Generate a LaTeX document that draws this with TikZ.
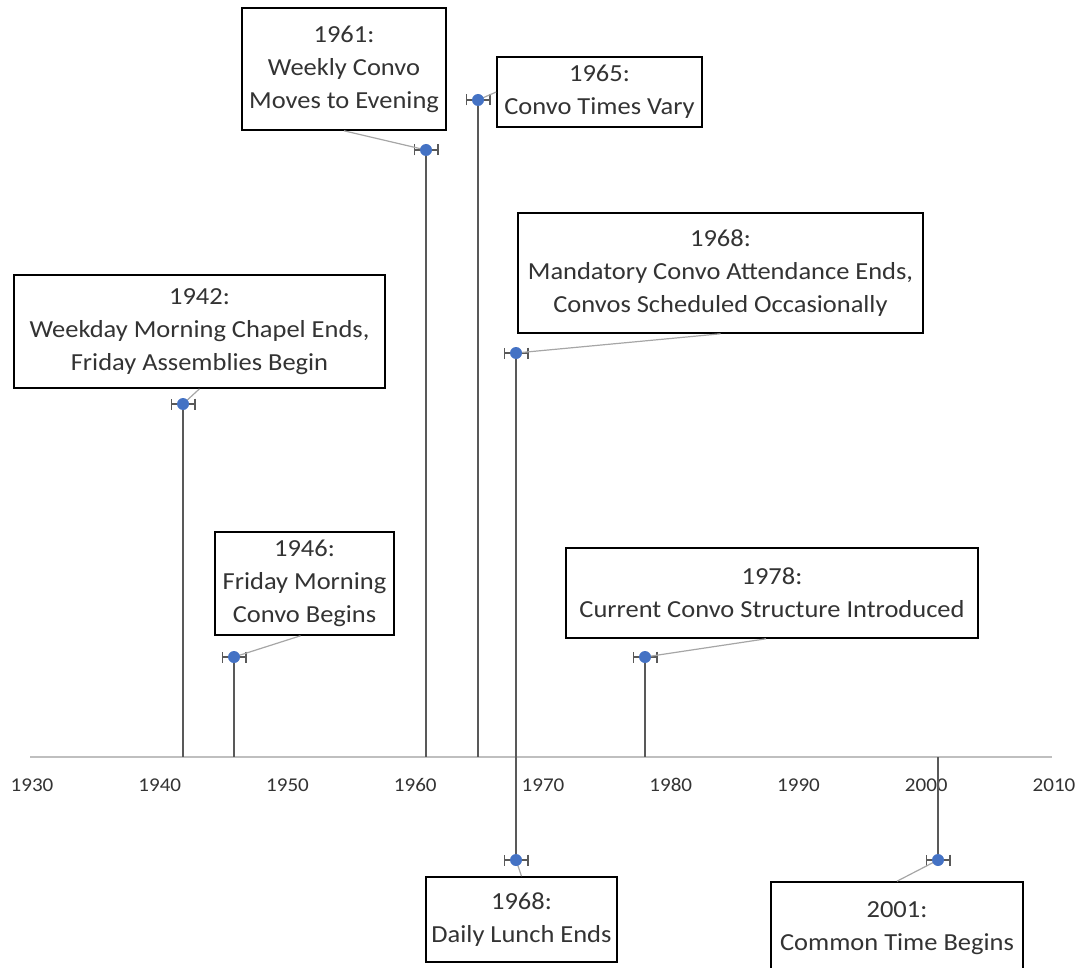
\documentclass[tikz,border=0pt]{standalone}
\usepackage{fontspec}
\setmainfont{Carlito}[FakeStretch=1.08]
\usetikzlibrary{arrows.meta,calc}
\definecolor{markblue}{HTML}{4472C4}
\definecolor{stemgray}{HTML}{595959}
\definecolor{axisgray}{HTML}{BFBFBF}
\definecolor{leadgray}{HTML}{A6A6A6}
\definecolor{txtgray}{HTML}{333333}
\begin{document}
\begin{tikzpicture}[x=1pt,y=-1pt,
  evbox/.style={draw=black, line width=1.6pt, fill=white, align=center,
    font=\fontsize{24.5}{33}\selectfont, text=txtgray, inner sep=0pt},
  stemline/.style={draw=stemgray, line width=1.6pt},
  leadline/.style={draw=leadgray, line width=1.2pt},
  errbar/.style={draw=stemgray, line width=1.7pt, {Bar[width=11pt]}-{Bar[width=11pt]}},
  ticklab/.style={font=\fontsize{19.5}{22}\selectfont, text=txtgray},
  axisline/.style={draw=axisgray, line width=1.4pt}
]
\useasboundingbox (0,0) rectangle (1075,968);

% axis
\coordinate (axL) at (30,757);
\coordinate (axR) at (1052,757);
\draw[axisline] (axL) -- (axR);
\foreach \yr [count=\i from 0] in {1930,1940,1950,1960,1970,1980,1990,2000,2010} {
  \node[ticklab] (t\yr) at (32+\i*127.75,785) {\yr};
}

% axis anchors
\coordinate (a1942) at (183,757);
\coordinate (a1946) at (234,757);
\coordinate (a1961) at (426,757);
\coordinate (a1965) at (478,757);
\coordinate (a1968) at (516,757);
\coordinate (a1978) at (645,757);
\coordinate (a2001) at (938,757);

% boxes
\node[evbox, minimum width=204pt, minimum height=122pt] (b1961) at (344,69) {1961:\\Weekly Convo\\Moves to Evening};
\node[evbox, minimum width=205pt, minimum height=70pt] (b1965) at (599.5,92) {1965:\\Convo Times Vary};
\node[evbox, minimum width=405pt, minimum height=120pt] (b1968a) at (720.5,273) {1968:\\Mandatory Convo Attendance Ends,\\Convos Scheduled Occasionally};
\node[evbox, minimum width=371pt, minimum height=113pt] (b1942) at (199.5,331.5) {1942:\\Weekday Morning Chapel Ends,\\Friday Assemblies Begin};
\node[evbox, minimum width=179pt, minimum height=103pt] (b1946) at (304.5,583.5) {1946:\\Friday Morning\\Convo Begins};
\node[evbox, minimum width=412pt, minimum height=90pt] (b1978) at (772,593) {1978:\\Current Convo Structure Introduced};
\node[evbox, minimum width=191pt, minimum height=85pt] (b1968b) at (521.5,919.5) {1968:\\Daily Lunch Ends};
\node[evbox, minimum width=252pt, minimum height=93pt] (b2001) at (897,928.5) {2001:\\Common Time Begins};

% point coordinates
\coordinate (c1942) at (183,404);
\coordinate (c1946) at (234,657);
\coordinate (c1961) at (426,150);
\coordinate (c1965) at (478,100);
\coordinate (c1968a) at (516,353);
\coordinate (c1968b) at (516,860);
\coordinate (c1978) at (645,657);
\coordinate (c2001) at (938,860);

% stems
\draw[stemline] (c1942) -- (a1942);
\draw[stemline] (c1946) -- (a1946);
\draw[stemline] (c1961) -- (a1961);
\draw[stemline] (c1965) -- (a1965);
\draw[stemline] (c1968a) -- (a1968);
\draw[stemline] (a1968) -- (c1968b);
\draw[stemline] (c1978) -- (a1978);
\draw[stemline] (a2001) -- (c2001);

% error bars
\foreach \c in {c1942,c1946,c1961,c1965,c1968a,c1968b,c1978,c2001} {
  \draw[errbar] ($(\c)+(-12.5,0)$) -- ($(\c)+(12.5,0)$);
}

% leaders
\draw[leadline] (c1942) -- (b1942.south);
\draw[leadline] (c1946) -- ($(b1946.south)+(-4,0)$);
\draw[leadline] (c1961) -- (b1961.south);
\draw[leadline] (c1965) -- (b1965.west);
\draw[leadline] (c1968a) -- (b1968a.south);
\draw[leadline] (c1968b) -- (b1968b.north);
\draw[leadline] (c1978) -- ($(b1978.south)+(-6,0)$);
\draw[leadline] (c2001) -- (b2001.north);

% points
\foreach \c in {1942,1946,1961,1965,1968a,1968b,1978,2001} {
  \node[circle, fill=markblue, inner sep=0pt, minimum size=12pt] (p\c) at (c\c) {};
}
\end{tikzpicture}
\end{document}
